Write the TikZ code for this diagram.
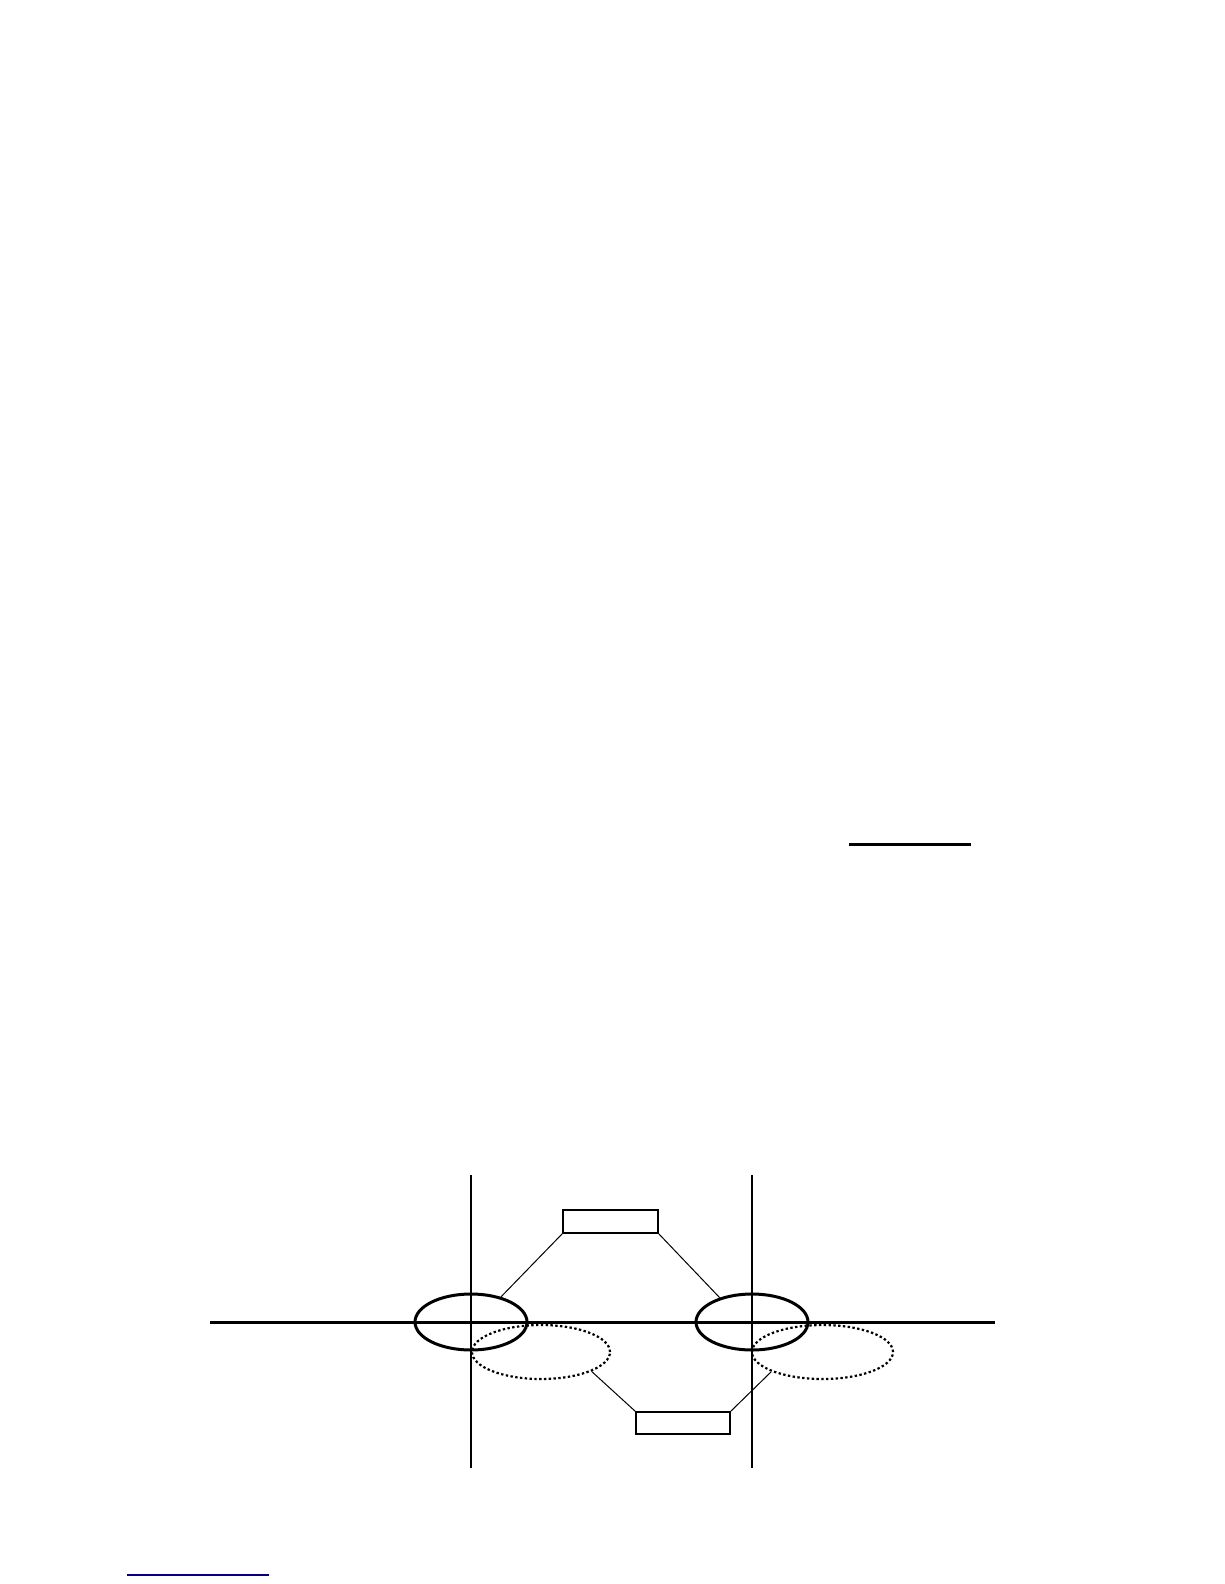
\documentclass[tikz,border=0pt]{standalone}
\usetikzlibrary{shapes.geometric}

\begin{document}
\begin{tikzpicture}[x=1pt,y=-1pt,
   box/.style={draw, line width=1.3pt, rectangle, inner sep=0pt},
   orbit/.style={draw, line width=3pt, ellipse, inner sep=0pt, minimum width=112pt, minimum height=56pt},
   ghost/.style={draw, line width=2.2pt, dash pattern=on 2.4pt off 2.4pt, ellipse, inner sep=0pt, minimum height=54pt},
   link/.style={line width=1pt}]

   \useasboundingbox (0,0) rectangle (1224,1584);

	% axes
	\coordinate (axL) at (210,1322);
	\coordinate (axR) at (995,1322);
	\coordinate (v1t) at (471,1175);
	\coordinate (v1b) at (471,1468);
	\coordinate (v2t) at (752,1175);
	\coordinate (v2b) at (752,1468);
	\draw[line width=3pt] (axL) -- (axR);
	\draw[line width=1.3pt] (v1t) -- (v1b);
	\draw[line width=2.4pt] (v2t) -- (v2b);

	% ellipses
	\node[orbit] (e1) at (471,1322) {};
	\node[orbit] (e2) at (752,1322) {};
	\node[ghost, minimum width=138pt] (d1) at (541,1352) {};
	\node[ghost, minimum width=141pt] (d2) at (822.5,1352) {};

	% boxes
	\node[box, minimum width=95pt, minimum height=23pt] (top) at (610.5,1221.5) {};
	\node[box, minimum width=94pt, minimum height=22pt] (bot) at (683,1423) {};

	\draw[link] (top.south west) -- (e1.40);
	\draw[link] (top.south east) -- (e2.143);
	\draw[link] (bot.north west) -- (d1.339);
	\draw[link] (bot.north east) -- (d2.201);

	% stray rules
	\coordinate (r1) at (849,844);
	\coordinate (r2) at (971,844);
	\draw[line width=3pt] (r1) -- (r2);
	\coordinate (b1) at (127,1575);
	\coordinate (b2) at (269,1575);
	\draw[line width=1.5pt, color={rgb,255:red,0;green,0;blue,128}] (b1) -- (b2);

\end{tikzpicture}
\end{document}
